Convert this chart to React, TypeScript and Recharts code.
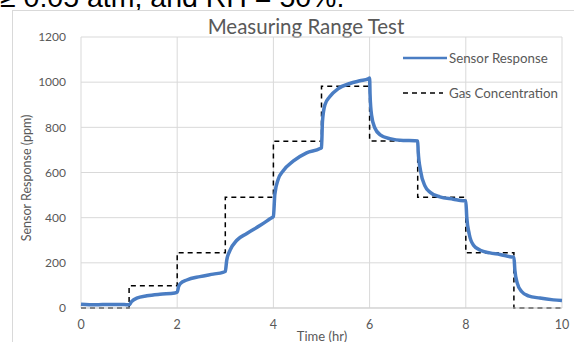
import React from 'react';
import { LineChart, Line, XAxis, YAxis, CartesianGrid, Legend, Label } from 'recharts';

const sensorTime = [0, 0.3, 0.6, 0.9, 1.0, 1.05, 1.16, 1.37, 1.64, 1.95, 2.0, 2.03, 2.06, 2.2, 2.47, 2.75, 2.95, 3.0, 3.03, 3.1, 3.24, 3.44, 3.72, 3.93, 4.0, 4.03, 4.1, 4.2, 4.41, 4.69, 4.97, 5.0, 5.02, 5.07, 5.17, 5.35, 5.59, 5.8, 5.97, 6.0, 6.01, 6.04, 6.11, 6.22, 6.42, 6.7, 6.94, 7.0, 7.01, 7.06, 7.15, 7.26, 7.46, 7.74, 7.95, 8.0, 8.02, 8.07, 8.16, 8.3, 8.5, 8.71, 8.95, 9.0, 9.02, 9.07, 9.16, 9.3, 9.54, 9.82, 10.0];
const sensorValue = [17, 14, 16, 15, 14, 28, 44, 54, 61, 66, 70, 95, 107, 124, 139, 150, 158, 162, 212, 256, 300, 329, 365, 395, 405, 504, 570, 607, 650, 687, 706, 710, 826, 899, 935, 972, 994, 1006, 1015, 1018, 943, 855, 797, 767, 750, 742, 741, 740, 694, 607, 541, 512, 492, 482, 475, 474, 402, 329, 278, 256, 244, 237, 226, 225, 168, 110, 73, 54, 44, 36, 33];

const gasTime = [0, 1, 2, 3, 4, 5, 6, 7, 8, 9, 10];
const gasValue = [0, 98, 245, 490, 738, 982, 740, 490, 245, 0, 0];

const xTicks = [0, 2, 4, 6, 8, 10];
const yTicks = [0, 200, 400, 600, 800, 1000, 1200];

const sensorData = sensorTime.map((t, i) => ({ t, v: sensorValue[i] }));
const gasData = gasTime.map((t, i) => ({ t, v: gasValue[i] }));

const FONT = 'Lato, "Open Sans", sans-serif';
const GREY = '#595959';
const BLUE = '#4a7dc3';

const LegendContent = () => (
  <svg width={174} height={50} style={{ display: 'block', overflow: 'visible' }}>
    <line x1={3} y1={10} x2={47} y2={10} stroke={BLUE} strokeWidth={2.5} />
    <text x={49} y={14.5} fontSize={13.3} fill={GREY} fontFamily={FONT}>Sensor Response</text>
    <line x1={3} y1={45} x2={43} y2={45} stroke="#000" strokeWidth={1.5} strokeDasharray="5 4" />
    <text x={49} y={49.5} fontSize={13.3} fill={GREY} fontFamily={FONT}>Gas Concentration</text>
  </svg>
);

export default function App() {
  return (
    <div style={{ position: 'absolute', left: 0, top: 0, width: 574, height: 342, overflow: 'hidden', background: '#fff' }}>
      <div style={{ position: 'absolute', left: 0, top: -17, fontFamily: '"Liberation Sans", Arial, sans-serif', fontSize: 28.5, lineHeight: '28px', whiteSpace: 'nowrap', color: '#000' }}>
        ≥ 0.05 atm, and RH = 50%.
      </div>
      <div style={{ position: 'absolute', left: 12, top: 10, width: 700, height: 500, border: '1px solid #d9d9d9' }} />
      <div style={{ position: 'absolute', left: 0, top: 14, width: 612, textAlign: 'center', fontFamily: FONT, fontSize: 20.5, color: GREY, lineHeight: '24px' }}>
        Measuring Range Test
      </div>
      <div style={{ position: 'absolute', left: 0, top: 0 }}>
        <LineChart width={574} height={342} margin={{ top: 37, right: 12, left: 0, bottom: 0 }}>
          <CartesianGrid stroke="#d9d9d9" strokeWidth={1} />
          <XAxis
            dataKey="t"
            type="number"
            domain={[0, 10]}
            ticks={xTicks}
            allowDuplicatedCategory={false}
            height={34}
            tickSize={0}
            tickMargin={12}
            tick={{ fill: GREY, fontSize: 12.5, fontFamily: FONT }}
            axisLine={{ stroke: '#cfcfcf' }}
          >
            <Label
              content={() => (
                <text x={322} y={341} textAnchor="middle" fontSize={13} fill={GREY} fontFamily={FONT}>Time (hr)</text>
              )}
            />
          </XAxis>
          <YAxis
            type="number"
            domain={[0, 1200]}
            ticks={yTicks}
            width={81}
            tickSize={0}
            tickMargin={15}
            axisLine={false}
            tick={{ fill: GREY, fontSize: 12, fontFamily: FONT }}
          >
            <Label
              content={() => (
                <text x={31} y={178} transform="rotate(-90 31 178)" textAnchor="middle" fontSize={12.5} fill={GREY} fontFamily={FONT}>Sensor Response (ppm)</text>
              )}
            />
          </YAxis>
          <Legend
            layout="horizontal"
            align="center"
            verticalAlign="middle"
            content={LegendContent}
            wrapperStyle={{ position: 'absolute', left: 400, top: 48, width: 174, height: 55 }}
          />
          <Line data={gasData} dataKey="v" name="Gas Concentration" type="stepAfter" stroke="#000" strokeWidth={1.5} strokeDasharray="5 4" dot={false} isAnimationActive={false} />
          <Line data={sensorData} dataKey="v" name="Sensor Response" type="monotone" stroke={BLUE} strokeWidth={3.5} dot={false} isAnimationActive={false} />
        </LineChart>
      </div>
    </div>
  );
}
